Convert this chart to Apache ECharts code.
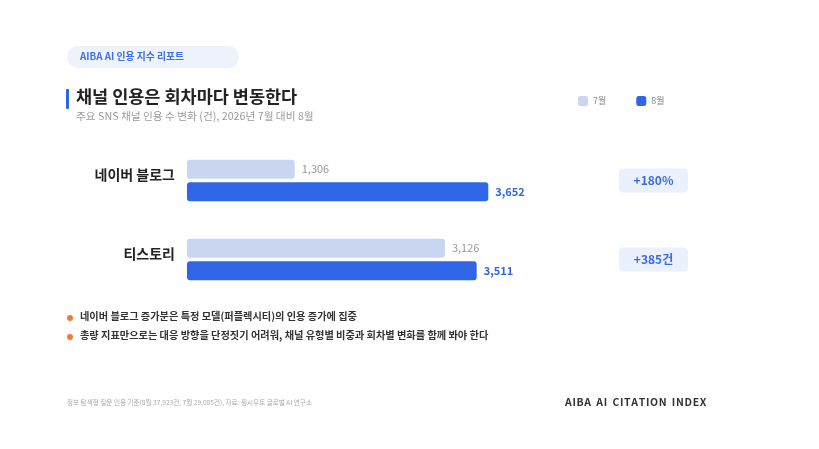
<!DOCTYPE html>
<html>
<head>
<meta charset="utf-8">
<style>
  html, body { margin: 0; padding: 0; background: #fff; }
  #main { width: 819px; height: 449px; }
</style>
</head>
<body>
<div id="main"></div>
<script src="https://cdn.jsdelivr.net/npm/echarts@6/dist/echarts.min.js"></script>
<script>
// 데이터
var channels = ['네이버 블로그', '티스토리'];
var julyValues = [1306, 3126];
var augValues = [3652, 3511];
var badges = ['+180%', '+385건'];
var notes = [
    '네이버 블로그 증가분은 특정 모델(퍼플렉시티)의 인용 증가에 집중',
    '총량 지표만으로는 대응 방향을 단정짓기 어려워, 채널 유형별 비중과 회차별 변화를 함께 봐야 한다'
];

var FONT = '"Noto Sans CJK KR", "Noto Sans", sans-serif';
var myChart = echarts.init(document.getElementById('main'));

var staticGraphics = [
    // 상단 알약 라벨
    { type: 'rect', left: 67, top: 46, shape: { width: 172, height: 22, r: 11 },
      style: { fill: '#eef2fb' } },
    { type: 'text', left: 80, top: 51,
      style: { text: 'AIBA AI 인용 지수 리포트', fill: '#3d6fe6', font: 'bold 9.8px ' + FONT } },
    // 제목 옆 파란 막대
    { type: 'rect', left: 66, top: 89, shape: { width: 3, height: 20, r: 1 },
      style: { fill: '#2f66e8' } },
    // 하단 출처
    { type: 'text', left: 67, top: 399,
      style: { text: '정보 탐색형 질문 인용 기준(8월 37,923건, 7월 29,085건), 자료: 핑시우트 글로벌 AI 연구소',
               fill: '#a8a8a8', font: '6.6px ' + FONT } },
    { type: 'text', left: 565, top: 397,
      style: { text: 'A I B A   A I   C I T A T I O N   I N D E X'.replace(/ {3}/g, '\u2002').replace(/ /g, '\u200a'),
               fill: '#333', font: 'bold 10.5px ' + FONT } }
];

notes.forEach(function (t, i) {
    staticGraphics.push({ type: 'circle', shape: { cx: 70, cy: 318 + i * 19, r: 3 },
        style: { fill: '#f07a3c' } });
    staticGraphics.push({ type: 'text', left: 80, top: 311 + i * 19,
        style: { text: t, fill: '#333', font: 'bold 10.2px ' + FONT } });
});

var option = {
    backgroundColor: '#fff',
    textStyle: { fontFamily: FONT },
    title: {
        text: '채널 인용은 회차마다 변동한다',
        subtext: '주요 SNS 채널 인용 수 변화 (건), 2026년 7월 대비 8월',
        left: 76,
        top: 88,
        itemGap: 5,
        padding: 0,
        textStyle: { fontSize: 17.5, fontWeight: 'bold', color: '#222', fontFamily: FONT },
        subtextStyle: { fontSize: 10.7, color: '#9a9a9a', fontFamily: FONT }
    },
    legend: {
        left: 573,
        top: 91,
        icon: 'roundRect',
        itemWidth: 10,
        itemHeight: 10,
        itemGap: 30,
        textStyle: { fontSize: 9, color: '#888', fontFamily: FONT },
        data: ['7월', '8월']
    },
    grid: { left: 187, top: 141, width: 330, height: 158 },
    xAxis: {
        type: 'value',
        min: 0,
        max: 4000,
        show: false
    },
    yAxis: {
        type: 'category',
        inverse: true,
        data: channels,
        axisLine: { show: false },
        axisTick: { show: false },
        axisLabel: {
            margin: 12,
            fontSize: 14,
            fontWeight: 'bold',
            color: '#222',
            fontFamily: FONT,
            verticalAlign: 'bottom',
            lineHeight: 12
        }
    },
    series: [
        {
            name: '7월',
            type: 'bar',
            data: julyValues,
            barWidth: 19,
            barGap: '18%',
            itemStyle: { color: '#c9d6f1', borderRadius: 3 },
            label: {
                show: true, position: 'right', distance: 7,
                fontSize: 11, color: '#999', fontFamily: FONT,
                formatter: function (p) { return p.value.toLocaleString('en-US'); }
            }
        },
        {
            name: '8월',
            type: 'bar',
            data: augValues,
            barWidth: 19,
            itemStyle: { color: '#2f66e8', borderRadius: 3 },
            label: {
                show: true, position: 'right', distance: 7,
                fontSize: 11, fontWeight: 'bold', color: '#2f66e8', fontFamily: FONT,
                formatter: function (p) { return p.value.toLocaleString('en-US'); }
            }
        }
    ],
    graphic: staticGraphics
};

myChart.setOption(option);

// 오른쪽 증감 배지: 카테고리 위치를 축에서 계산
var badgeGraphics = staticGraphics.slice();
channels.forEach(function (c, i) {
    var y = myChart.convertToPixel({ yAxisIndex: 0 }, c);
    badgeGraphics.push({ type: 'rect', left: 619, top: y - 12,
        shape: { width: 69, height: 24, r: 4 }, style: { fill: '#eaf0fc' } });
    badgeGraphics.push({ type: 'text', x: 653.5, y: y,
        style: { text: badges[i], fill: '#3b6be0', font: 'bold 12px ' + FONT,
                 align: 'center', verticalAlign: 'middle' } });
});
myChart.setOption({ graphic: badgeGraphics }, { replaceMerge: ['graphic'] });
</script>
</body>
</html>
